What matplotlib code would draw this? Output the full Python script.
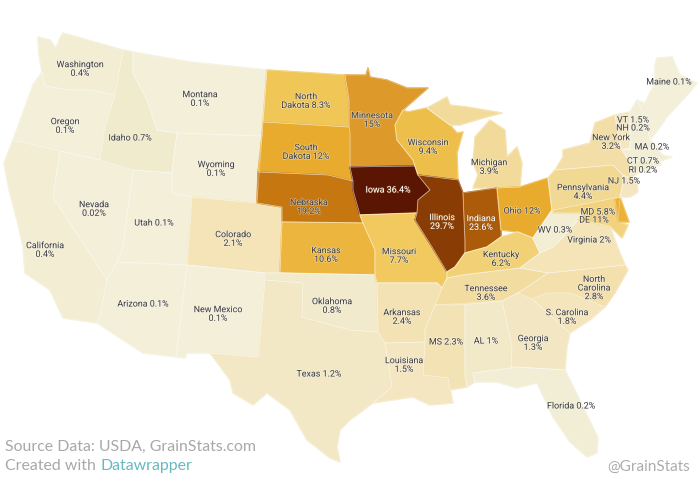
import matplotlib
matplotlib.use("Agg")
import matplotlib.pyplot as plt
import matplotlib.patheffects as pe
from matplotlib.colors import LinearSegmentedColormap, Normalize
from matplotlib.patches import Polygon

# Share of US corn production by state (%)
states = ["WA", "OR", "CA", "NV", "ID", "MT", "WY", "UT", "AZ", "CO", "NM", "ND", "SD", "NE", "KS",
          "OK", "TX", "MN", "IA", "MO", "AR", "LA", "WI", "IL", "MI", "UP", "IN", "OH", "KY", "TN",
          "MS", "AL", "GA", "FL", "SC", "NC", "VA", "WV", "PA", "NY", "MD", "DE", "NJ", "CT", "RI",
          "MA", "VT", "NH", "ME"]
values = [0.4, 0.1, 0.4, 0.02, 0.7, 0.1, 0.1, 0.1, 0.1, 2.1, 0.1, 8.3, 12, 19.2, 10.6,
          0.8, 1.2, 15, 36.4, 7.7, 2.4, 1.5, 9.4, 29.7, 3.9, 3.9, 23.6, 12, 6.2, 3.6,
          2.3, 1, 1.3, 0.2, 1.8, 2.8, 2, 0.3, 4.4, 3.2, 5.8, 11, 1.5, 0.7, 0.2,
          0.2, 1.5, 0.2, 0.1]

# Outlines of the states in picture pixels
outlines = {
    "WA": [(38, 37), (50, 40), (56, 48), (60, 38), (63, 33), (123, 50), (115, 95), (92, 90), (70, 90), (45, 86), (42, 72), (39, 55)],
    "OR": [(42, 72), (45, 86), (70, 90), (92, 90), (115, 95), (110, 110), (104, 130), (100, 160), (60, 151), (13, 140), (24, 110), (33, 85)],
    "CA": [(13, 140), (60, 151), (53, 197), (107, 280), (100, 315), (97, 323), (63, 318), (50, 290), (25, 273), (23, 247), (17, 220), (9, 190), (4, 163)],
    "NV": [(60, 151), (100, 160), (133, 170), (123, 247), (117, 262), (107, 280), (53, 197)],
    "ID": [(123, 50), (133, 52), (133, 73), (147, 100), (157, 130), (177, 133), (172, 173), (133, 170), (100, 160), (104, 130), (110, 110), (115, 95)],
    "MT": [(133, 52), (190, 62), (267, 70), (263, 122), (262, 136), (177, 133), (157, 130), (147, 100), (133, 73)],
    "WY": [(177, 133), (262, 136), (257, 203), (192, 197), (172, 193), (172, 173)],
    "UT": [(133, 170), (172, 173), (172, 193), (192, 197), (187, 265), (117, 262), (123, 247)],
    "AZ": [(117, 262), (187, 265), (176, 357), (143, 353), (97, 323), (100, 315), (107, 280)],
    "CO": [(192, 197), (257, 203), (282, 207), (282, 222), (280, 273), (265, 273), (187, 265)],
    "NM": [(187, 265), (265, 273), (265, 280), (258, 357), (210, 353), (187, 353), (185, 358), (176, 357)],
    "ND": [(267, 70), (345, 75), (349, 100), (349, 127), (263, 122)],
    "SD": [(263, 122), (349, 127), (350, 133), (350, 167), (353, 181), (328, 175), (258, 172), (262, 136)],
    "NE": [(258, 172), (328, 175), (353, 181), (353, 190), (360, 215), (363, 223), (282, 222), (282, 207), (257, 203)],
    "KS": [(282, 222), (363, 223), (375, 250), (375, 275), (280, 273)],
    "OK": [(265, 273), (280, 273), (375, 275), (377, 283), (378, 332), (350, 330), (302, 317), (303, 283), (265, 280)],
    "TX": [(265, 280), (303, 283), (302, 317), (350, 330), (378, 332), (385, 343), (392, 387), (373, 403), (350, 420), (340, 430), (337, 447), (340, 462), (330, 458), (307, 440), (290, 410), (267, 393), (253, 405), (233, 393), (230, 380), (210, 353), (258, 357)],
    "MN": [(345, 75), (366, 75), (368, 68), (370, 77), (387, 80), (407, 88), (428, 88), (403, 110), (395, 125), (397, 140), (413, 160), (415, 166), (350, 167), (350, 133), (349, 127), (349, 100)],
    "IA": [(350, 167), (415, 166), (418, 175), (430, 190), (418, 200), (417, 213), (360, 215), (353, 190), (353, 181)],
    "MO": [(360, 215), (417, 213), (415, 220), (432, 247), (447, 272), (447, 278), (442, 288), (437, 283), (377, 283), (375, 275), (375, 250), (363, 223)],
    "AR": [(377, 283), (437, 283), (442, 288), (435, 305), (425, 330), (425, 342), (385, 343), (378, 332)],
    "LA": [(385, 343), (425, 342), (423, 375), (448, 378), (453, 403), (430, 405), (413, 397), (373, 403), (392, 387)],
    "WI": [(395, 125), (403, 110), (408, 112), (427, 108), (450, 125), (457, 133), (463, 132), (457, 153), (458, 180), (418, 175), (415, 166), (413, 160), (397, 140)],
    "IL": [(418, 175), (458, 180), (463, 193), (465, 240), (465, 253), (455, 267), (447, 272), (432, 247), (415, 220), (417, 213), (418, 200), (430, 190)],
    "MI": [(473, 188), (497, 188), (520, 187), (522, 163), (517, 147), (507, 157), (505, 130), (490, 120), (475, 137), (473, 163), (478, 175)],
    "UP": [(427, 108), (447, 97), (450, 105), (467, 107), (502, 113), (483, 118), (460, 125), (450, 125)],
    "IN": [(463, 193), (497, 188), (501, 230), (501, 237), (487, 247), (465, 253), (465, 240)],
    "OH": [(497, 188), (520, 187), (548, 178), (552, 210), (533, 238), (518, 232), (501, 230)],
    "KY": [(465, 253), (487, 247), (501, 237), (518, 232), (533, 238), (540, 253), (520, 268), (463, 275), (447, 278), (447, 272), (455, 267)],
    "TN": [(447, 278), (463, 275), (520, 268), (548, 273), (518, 293), (502, 301), (435, 305), (442, 288)],
    "MS": [(435, 305), (465, 305), (465, 373), (467, 387), (450, 390), (448, 378), (423, 375), (425, 342), (425, 330)],
    "AL": [(465, 305), (502, 301), (512, 347), (511, 368), (473, 373), (475, 382), (467, 387), (465, 373)],
    "GA": [(502, 301), (518, 293), (532, 299), (570, 333), (567, 347), (565, 370), (515, 367), (511, 368), (512, 347)],
    "FL": [(473, 373), (511, 368), (515, 367), (565, 370), (575, 390), (598, 438), (597, 453), (587, 457), (570, 442), (553, 417), (537, 383), (517, 388), (497, 382), (475, 382)],
    "SC": [(532, 299), (547, 293), (570, 293), (605, 307), (590, 320), (570, 333)],
    "NC": [(518, 293), (548, 273), (625, 265), (628, 270), (615, 293), (605, 307), (570, 293), (547, 293), (532, 299)],
    "VA": [(520, 268), (540, 253), (553, 247), (563, 237), (578, 220), (590, 222), (610, 226), (613, 235), (620, 253), (625, 265), (548, 273)],
    "WV": [(533, 238), (552, 210), (553, 213), (568, 213), (583, 213), (578, 220), (563, 237), (553, 247), (540, 253)],
    "PA": [(548, 178), (555, 170), (613, 165), (623, 175), (623, 183), (620, 197), (553, 210), (552, 210)],
    "NY": [(555, 170), (563, 157), (563, 150), (590, 143), (595, 123), (615, 115), (618, 135), (622, 150), (630, 162), (630, 173), (642, 170), (630, 178), (623, 175), (613, 165)],
    "MD": [(553, 210), (620, 197), (618, 222), (628, 225), (622, 238), (610, 226), (590, 222), (578, 220), (583, 213), (568, 213), (553, 213)],
    "DE": [(615, 199), (620, 197), (629, 222), (618, 222)],
    "NJ": [(623, 175), (630, 178), (637, 180), (638, 192), (630, 197), (620, 197), (623, 183)],
    "CT": [(630, 162), (652, 158), (654, 167), (630, 175)],
    "RI": [(652, 158), (659, 157), (661, 165), (654, 167)],
    "MA": [(622, 150), (657, 147), (662, 155), (672, 157), (661, 161), (659, 157), (630, 162)],
    "VT": [(615, 115), (630, 112), (630, 148), (622, 150), (618, 135)],
    "NH": [(630, 112), (637, 100), (645, 118), (650, 140), (657, 147), (622, 150), (630, 148)],
    "ME": [(637, 100), (645, 103), (655, 83), (655, 65), (657, 58), (672, 57), (680, 75), (697, 83), (690, 92), (667, 117), (658, 130), (650, 140), (645, 118)],
}

# State labels: text, then x, y of its centre in picture pixels
labels = [
    ("Washington\n0.4%", 80, 69), ("Montana\n0.1%", 200, 99), ("Oregon\n0.1%", 65, 126), ("Idaho 0.7%", 130, 138),
    ("Wyoming\n0.1%", 216, 169), ("Nevada\n0.02%", 94, 209), ("Utah 0.1%", 154, 223), ("Colorado\n2.1%", 233, 239),
    ("California\n0.4%", 45, 250), ("Arizona 0.1%", 143, 304), ("New Mexico\n0.1%", 218, 314), ("Oklahoma\n0.8%", 332, 306),
    ("Texas 1.2%", 319, 374), ("North\nDakota 8.3%", 306, 101), ("South\nDakota 12%", 306, 152), ("Nebraska\n19.2%", 309, 207),
    ("Kansas\n10.6%", 326, 255), ("Minnesota\n15%", 372, 120), ("Wisconsin\n9.4%", 428, 147), ("Iowa 36.4%", 388, 190),
    ("Michigan\n3.9%", 489, 167), ("Illinois\n29.7%", 442, 222), ("Indiana\n23.6%", 481, 223), ("Ohio 12%", 522, 211),
    ("Missouri\n7.7%", 399, 256), ("Kentucky\n6.2%", 501, 259), ("Tennessee\n3.6%", 486, 293), ("North\nCarolina\n2.8%", 594, 288),
    ("S. Carolina\n1.8%", 567, 317), ("Arkansas\n2.4%", 402, 317), ("Georgia\n1.3%", 533, 343), ("MS 2.3%", 446, 342),
    ("AL 1%", 486, 341), ("Louisiana\n1.5%", 404, 365), ("Florida 0.2%", 571, 406), ("Maine 0.1%", 669, 82),
    ("VT 1.5%", 633, 120), ("NH 0.2%", 633, 128), ("New York\n3.2%", 611, 142), ("MA 0.2%", 652, 147),
    ("CT 0.7%", 643, 161), ("RI 0.2%", 643, 170), ("NJ 1.5%", 624, 181), ("Pennsylvania\n4.4%", 583, 192),
    ("MD 5.8%", 598, 212), ("DE 11%", 594, 220), ("WV 0.3%", 555, 230), ("Virginia 2%", 589, 240),
]
light_labels = ["Iowa 36.4%", "Illinois\n29.7%", "Indiana\n23.6%"]

# Colour stops for the value scale
scale_stops = [0.0, 0.5, 1.5, 3, 4.5, 8, 12, 15, 19, 24, 30, 36.4]
scale_colors = ["#f3efd9", "#f1ebcf", "#f4e6c0", "#f3dfa9", "#f2d88f", "#f1c85a", "#e8ab2e", "#dd9a2a",
                "#c8790f", "#a9580a", "#873c04", "#5a1503"]

norm = Normalize(0, 36.4)
cmap = LinearSegmentedColormap.from_list(
    "grain", [(s / 36.4, c) for s, c in zip(scale_stops, scale_colors)])

plt.rcParams["font.family"] = ["Roboto", "DejaVu Sans"]
fig = plt.figure(figsize=(7, 4.82), dpi=100)
ax = fig.add_axes([0, 0, 1, 1])
ax.set_xlim(0, 700)
ax.set_ylim(482, 0)
ax.axis("off")

# First pass closes the small gaps between neighbours, second adds the faint borders
for state, value in zip(states, values):
    color = cmap(norm(value))
    ax.add_patch(Polygon(outlines[state], closed=True, facecolor=color,
                         edgecolor=color, linewidth=1.0, joinstyle="round"))
for state in states:
    ax.add_patch(Polygon(outlines[state], closed=True, fill=False,
                         edgecolor=(1, 1, 1, 0.4), linewidth=0.5, joinstyle="round"))

for text, x, y in labels:
    light = text in light_labels
    t = ax.text(x, y, text, ha="center", va="center", fontsize=6.4, linespacing=0.95,
                color="#ffffff" if light else "#444444")
    halo = "#8a4a10" if light else "#ffffff"
    t.set_path_effects([pe.withStroke(linewidth=1.0, foreground=halo, alpha=0.45)])

ax.text(5, 447, "Source Data: USDA, GrainStats.com", fontsize=11.4, color="#a8a8a8",
        family="Lato", ha="left", va="center")
ax.text(5, 466, "Created with ", fontsize=11.4, color="#a8a8a8", family="Lato", ha="left", va="center")
ax.text(100, 466, "Datawrapper", fontsize=11.4, color="#67b9bf", family="Lato", ha="left", va="center")
ax.text(690, 467, "@GrainStats", fontsize=11, color="#adadad", family="Lato", ha="right", va="center")

fig.savefig("out.png", dpi=100)
